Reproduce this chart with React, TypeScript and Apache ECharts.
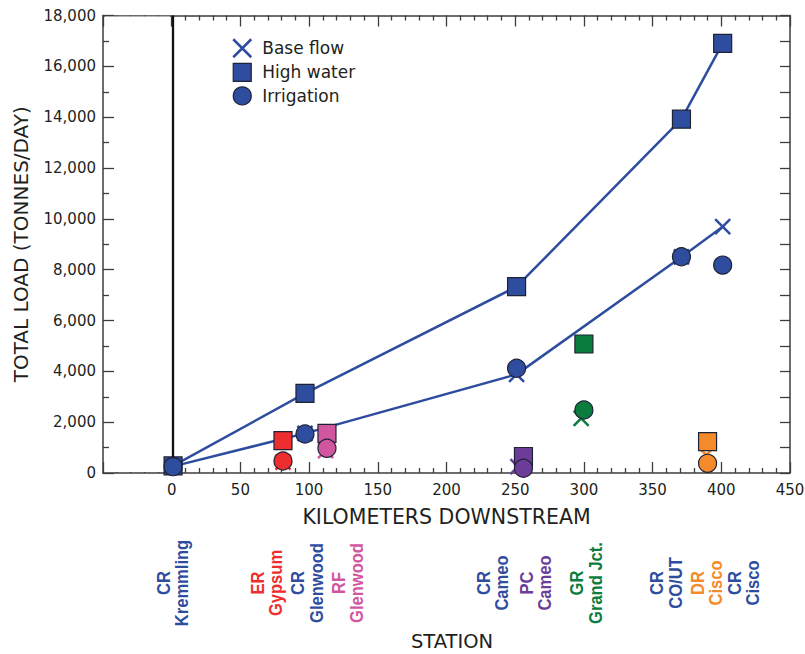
import React, { useEffect, useRef } from "react";
import * as echarts from "echarts";

// ---- data ----
const mainKm = [1, 97, 251, 371, 401];
const baseMain = [260, 1560, 3880, 8500, 9690];
const highMain = [280, 3130, 7330, 13920, 16900];
const irrMain = [250, 1534, 4120, 8510, 8180];

const tribNames = ["ER", "RF", "PC", "GR", "DR"];
const tribKm = [81, 113, 256, 300, 390];
const tribBaseKm = [81, 112, 252, 298, 389];
const tribBase = [430, 880, 250, 2150, 708];
const tribHigh = [1271, 1560, 650, 5075, 1232];
const tribIrr = [472, 971, 185, 2478, 380];

const stationLabels = [
  "CR\nKremmling",
  "ER\nGypsum",
  "CR\nGlenwood",
  "RF\nGlenwood",
  "CR\nCameo",
  "PC\nCameo",
  "GR\nGrand Jct.",
  "CR\nCO/UT",
  "DR\nCisco",
  "CR\nCisco",
];
const stationLabelKm = [0.7, 69, 98.6, 128, 233.6, 265, 301.7, 359.8, 389.4, 416.5];
const stationCodes = ["CR", "ER", "CR", "RF", "CR", "PC", "GR", "CR", "DR", "CR"];

// ---- styles ----
const BLUE = "#2e4d9f";
const COLORS: Record<string, string> = {
  CR: BLUE,
  ER: "#ee2d2f",
  RF: "#d2569f",
  PC: "#6c3d98",
  GR: "#0a7c3e",
  DR: "#f58a2a",
};
const TXT = "#231f20";
const AX = "#3d3d3d";
const BORDER = "#1e2235";
const FONT = "DejaVu Sans";
const XPATH = "path://M0,0L20,20M20,0L0,20";

export default function App() {
  const ref = useRef<HTMLDivElement>(null);

  useEffect(() => {
    document.body.style.margin = "0";
    if (!ref.current) return;
    const chart = echarts.init(ref.current, undefined, { renderer: "svg" });

    const mainPairs = (vals: number[]) => mainKm.map((k, i) => [k, vals[i]]);
    const tribItems = (kms: number[], vals: number[], isX: boolean) =>
      tribNames.map((n, i) => ({
        value: [kms[i], vals[i]],
        itemStyle: isX
          ? { color: COLORS[n], borderColor: COLORS[n] }
          : { color: COLORS[n] },
      }));

    const axisLine = { show: true, onZero: false, lineStyle: { color: AX, width: 1.5 } };
    const tickStyle = { color: AX, width: 1.3 };

    const xCommon = {
      type: "value",
      min: -50,
      max: 450,
      interval: 50,
      axisLine,
      splitLine: { show: false },
      minorSplitLine: { show: false },
      axisTick: { show: true, inside: true, length: 11, lineStyle: tickStyle },
      minorTick: { show: true, splitNumber: 5, length: 5, lineStyle: tickStyle },
    };

    const option: any = {
      animation: false,
      grid: { left: 103, right: 15, top: 15.5, bottom: 181, outerBoundsMode: "none" },
      legend: {
        orient: "vertical",
        left: 227,
        top: 33,
        itemWidth: 18,
        itemHeight: 18,
        itemGap: 4.3,
        selectedMode: false,
        textStyle: { fontFamily: FONT, fontSize: 17, color: TXT, padding: [0, 0, 0, 6] },
        data: [
          {
            name: "Base flow",
            icon: XPATH,
            itemStyle: { color: BLUE, borderColor: BLUE, borderWidth: 2.5, opacity: 1 },
          },
          {
            name: "High water",
            icon: "rect",
            itemStyle: { color: BLUE, borderColor: BORDER, borderWidth: 1.2, opacity: 1 },
          },
          {
            name: "Irrigation",
            icon: "circle",
            itemStyle: { color: BLUE, borderColor: BORDER, borderWidth: 1.2, opacity: 1 },
          },
        ],
      },
      xAxis: [
        {
          ...xCommon,
          position: "bottom",
          axisLabel: {
            formatter: (v: number) => (v < 0 ? "" : String(v)),
            fontFamily: FONT,
            fontSize: 15,
            color: TXT,
            margin: 9,
          },
          name: "KILOMETERS DOWNSTREAM",
          nameLocation: "middle",
          nameGap: 33,
          nameTextStyle: { fontFamily: FONT, fontSize: 20.5, color: TXT },
        },
        {
          ...xCommon,
          position: "top",
          axisLabel: { show: false },
        },
      ],
      yAxis: [
        {
          type: "value",
          min: 0,
          max: 18000,
          interval: 2000,
          position: "left",
          axisLine,
          splitLine: { show: false },
          axisTick: { show: true, inside: true, length: 11, lineStyle: tickStyle },
          minorTick: { show: true, splitNumber: 2, length: 6, lineStyle: tickStyle },
          minorSplitLine: { show: false },
          axisLabel: {
            formatter: (v: number) => v.toLocaleString("en-US"),
            fontFamily: FONT,
            fontSize: 15,
            color: TXT,
            margin: 7,
          },
          name: "TOTAL LOAD (TONNES/DAY)",
          nameLocation: "middle",
          nameRotate: 90,
          nameGap: 72,
          nameTextStyle: { fontFamily: FONT, fontSize: 20, color: TXT },
        },
        {
          type: "value",
          min: 0,
          max: 18000,
          interval: 1000,
          position: "right",
          axisLine,
          splitLine: { show: false },
          axisTick: { show: true, inside: true, length: 10, lineStyle: tickStyle },
          axisLabel: { show: false },
        },
      ],
      series: [
        {
          name: "High water line",
          type: "line",
          data: mainPairs(highMain),
          symbol: "none",
          lineStyle: { color: BLUE, width: 2.5 },
          z: 2,
          silent: true,
          markLine: {
            silent: true,
            symbol: ["none", "none"],
            label: { show: false },
            lineStyle: { color: "#111111", width: 2.3, type: "solid" },
            data: [{ xAxis: mainKm[0] }],
          },
        },
        {
          name: "Base flow line",
          type: "line",
          data: mainPairs(baseMain),
          symbol: "none",
          lineStyle: { color: BLUE, width: 2.5 },
          z: 2,
          silent: true,
        },
        {
          name: "Base flow",
          type: "scatter",
          symbol: XPATH,
          symbolSize: 15,
          itemStyle: { color: BLUE, borderColor: BLUE, borderWidth: 2.5, opacity: 1 },
          data: [
            ...mainPairs(baseMain).map((p) => ({ value: p })),
            ...tribItems(tribBaseKm, tribBase, true),
          ],
          z: 3,
        },
        {
          name: "High water",
          type: "scatter",
          symbol: "rect",
          symbolSize: 18,
          itemStyle: { color: BLUE, borderColor: BORDER, borderWidth: 1.2, opacity: 1 },
          data: [
            ...mainPairs(highMain).map((p) => ({ value: p })),
            ...tribItems(tribKm, tribHigh, false),
          ],
          z: 4,
        },
        {
          name: "Irrigation",
          type: "scatter",
          symbol: "circle",
          symbolSize: 18,
          itemStyle: { color: BLUE, borderColor: BORDER, borderWidth: 1.2, opacity: 1 },
          data: [
            ...mainPairs(irrMain).map((p) => ({ value: p })),
            ...tribItems(tribKm, tribIrr, false),
          ],
          z: 5,
        },
      ],
    };

    chart.setOption(option);

    const labelY = 583;
    const graphics: any[] = stationLabels.map((t, i) => {
      const px = chart.convertToPixel({ xAxisIndex: 0 }, stationLabelKm[i]) as number;
      return {
        type: "text",
        x: px,
        y: labelY,
        rotation: Math.PI / 2,
        scaleX: 0.92,
        silent: true,
        style: {
          text: t,
          fill: COLORS[stationCodes[i]],
          fontFamily: "Liberation Sans",
          fontWeight: "bold",
          fontSize: 18,
          align: "center",
          verticalAlign: "middle",
          lineHeight: 18.5,
        },
      };
    });
    graphics.push({
      type: "text",
      x: 452,
      y: 641,
      silent: true,
      style: {
        text: "STATION",
        fill: TXT,
        fontFamily: FONT,
        fontSize: 19.5,
        align: "center",
        verticalAlign: "middle",
      },
    });
    // hide the minor ticks left of 0 km (reference has none there)
    const xL = (chart.convertToPixel({ xAxisIndex: 0 }, -49) as number) + 0.5;
    const xR = (chart.convertToPixel({ xAxisIndex: 0 }, -1) as number) - 0.5;
    const yBot = chart.convertToPixel({ yAxisIndex: 0 }, 0) as number;
    const yTop = chart.convertToPixel({ yAxisIndex: 0 }, 18000) as number;
    graphics.push(
      {
        type: "rect",
        silent: true,
        z: 1,
        shape: { x: xL, y: yBot - 7, width: xR - xL, height: 6 },
        style: { fill: "#ffffff" },
      },
      {
        type: "rect",
        silent: true,
        z: 1,
        shape: { x: xL, y: yTop + 1, width: xR - xL, height: 6 },
        style: { fill: "#ffffff" },
      }
    );
    chart.setOption({ graphic: graphics });

    return () => chart.dispose();
  }, []);

  return <div ref={ref} style={{ width: 805, height: 654 }} />;
}
